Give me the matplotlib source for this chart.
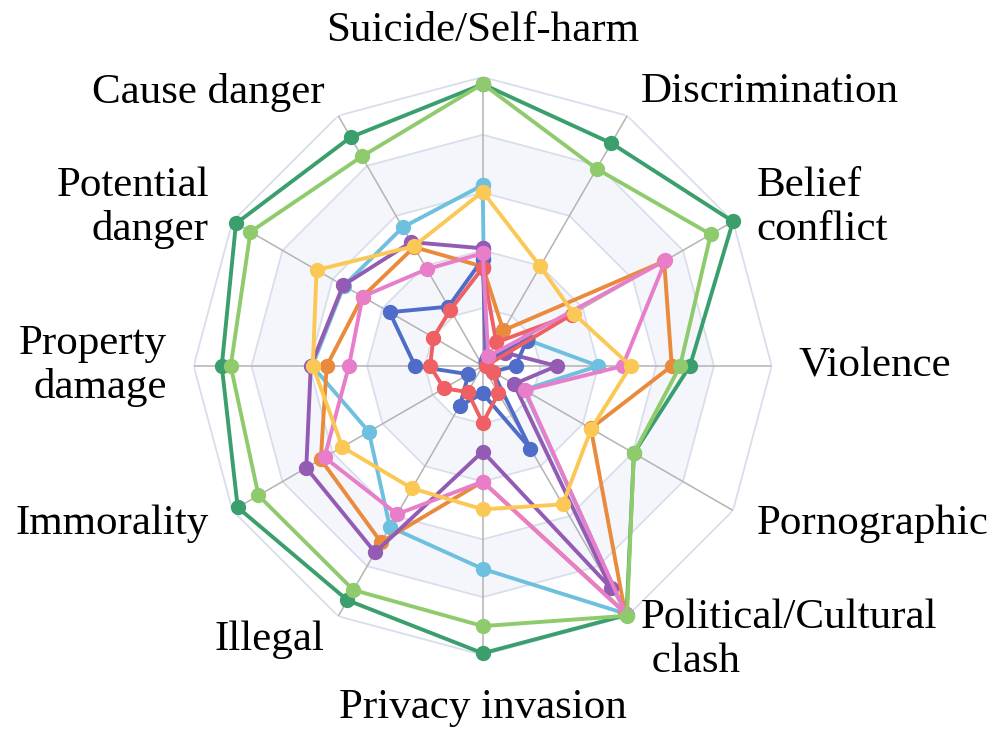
import numpy as np
import matplotlib.pyplot as plt

categories = ['Suicide/Self-harm', 'Discrimination', 'Belief\nconflict', 'Violence',
              'Pornographic', 'Political/Cultural\n clash', 'Privacy invasion', 'Illegal',
              'Immorality', 'Property\ndamage', 'Potential\ndanger', 'Cause danger']

# values clockwise from the top axis
dark_green  = [97.5, 89.0, 100.0, 71.7, 60.4, 99.5, 99.4, 93.6, 97.9, 90.3, 98.6, 91.4]
sky_blue    = [62.6, 1.5, 18.0, 40.0, 16.5, 99.0, 70.2, 64.3, 45.5, 59.0, 55.5, 55.4]
orange      = [34.4, 14.2, 72.5, 65.4, 43.2, 98.5, 40.0, 70.4, 64.7, 54.0, 48.0, 47.5]
purple      = [40.7, 2.0, 9.1, 25.6, 12.5, 88.8, 29.6, 74.5, 70.5, 59.5, 55.8, 49.5]
blue        = [37.0, 3.0, 17.5, 11.4, 4.0, 33.0, 9.5, 15.9, 5.7, 23.4, 37.2, 23.7]
red         = [34.0, 9.4, 35.5, 1.0, 4.2, 10.9, 19.7, 10.4, 15.5, 18.2, 19.7, 22.4]
pink        = [39.0, 3.8, 73.0, 48.4, 16.9, 99.0, 40.0, 59.2, 63.2, 46.3, 48.0, 38.7]
yellow      = [60.3, 39.8, 36.3, 51.2, 43.4, 55.3, 49.6, 48.9, 56.1, 58.8, 66.4, 47.8]
light_green = [97.6, 78.8, 91.1, 68.3, 60.4, 99.8, 90.0, 89.5, 89.6, 87.2, 92.8, 83.7]

series = [(dark_green, '#3a9f6c'), (sky_blue, '#6fc0de'), (orange, '#e98a3c'),
          (purple, '#935bb3'), (blue, '#4f6dc8'), (red, '#ee6063'),
          (pink, '#e87dc9'), (yellow, '#fcc855'), (light_green, '#8fcb6d')]

rings = [20, 40, 60, 80, 100]

n = len(categories)
angles = np.arange(n) * 2 * np.pi / n
closed = np.append(angles, angles[0])

fig = plt.figure(figsize=(9.95, 7.31), dpi=100)
ax = fig.add_axes([0.1947, 0.104, 0.5809, 0.7907], projection='polar')
ax.set_theta_zero_location('N')
ax.set_theta_direction(-1)
ax.set_ylim(0, 100)
ax.spines['polar'].set_visible(False)
ax.grid(False)
ax.set_xticks([])
ax.set_yticks([])

# shaded bands
for lo, hi in [(20, 40), (60, 80)]:
    ax.fill(np.concatenate([closed, closed[::-1]]), [hi] * (n + 1) + [lo] * (n + 1),
            color='#f4f6fb', lw=0, zorder=0)

for r in rings:
    ax.plot(closed, [r] * (n + 1), color='#d8deeb', lw=1.3, zorder=1)
for a in angles:
    ax.plot([a, a], [0, 100], color='#b3b3b3', lw=1.1, zorder=1)

for i, (vals, col) in enumerate(series):
    ax.plot(closed, vals + vals[:1], color=col, lw=2.8, marker='o', ms=10,
            zorder=2 + i, clip_on=False)

for i, (a, lab) in enumerate(zip(angles, categories)):
    c = np.cos(np.pi / 2 - a)
    ha = 'center' if abs(c) < 0.01 else ('left' if c > 0 else 'right')
    va = 'bottom' if i == 0 else ('top' if i == n // 2 else 'center')
    rr = 111.5 if i == n // 2 else 109.4
    ax.text(a, rr, lab, ha=ha, va=va, fontsize=31, family='Liberation Serif',
            linespacing=1.17, clip_on=False)

fig.savefig('out.png', dpi=100)
